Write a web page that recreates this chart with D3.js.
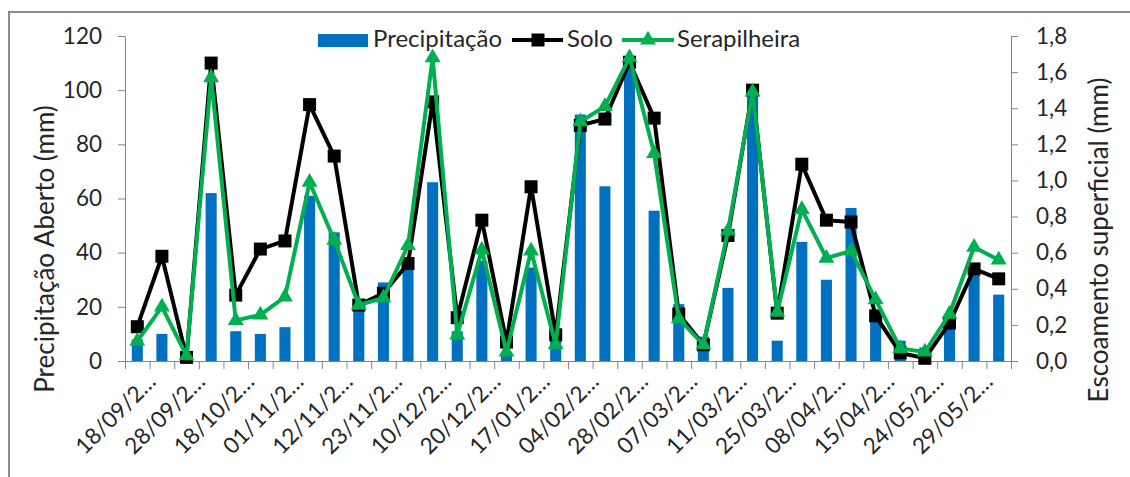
<!DOCTYPE html>
<head>
<meta charset="utf-8">
<title>Precipitação e escoamento</title>
<style>
  body { margin: 0; padding: 0; background: #fff; font-family: 'Lato', sans-serif; }
  text { fill: #262626; font-family: 'Lato', sans-serif; }
  .axis path, .axis line { stroke: #868686; }
</style>
</head>
<body>
<div id="vis"></div>
<script src="https://cdn.jsdelivr.net/npm/d3@7"></script>
<script>
var datas = ["18/09/2…", "", "28/09/2…", "", "18/10/2…", "", "01/11/2…", "", "12/11/2…", "",
             "23/11/2…", "", "10/12/2…", "", "20/12/2…", "", "17/01/2…", "", "04/02/2…", "",
             "28/02/2…", "", "07/03/2…", "", "11/03/2…", "", "25/03/2…", "", "08/04/2…", "",
             "15/04/2…", "", "24/05/2…", "", "29/05/2…", ""];

var precipitacao = [8, 10, 1, 62, 11, 10, 12.5, 61, 47.5, 21, 29, 35,
                    66, 11, 37, 3, 34.5, 8, 91, 64.5, 108, 55.5, 21, 9,
                    27, 99, 7.5, 44, 30, 56.5, 17, 7.5, 5, 14, 32, 24.5];

var solo = [0.19, 0.58, 0.02, 1.65, 0.365, 0.62, 0.665, 1.42, 1.135, 0.31, 0.375, 0.54,
            1.435, 0.24, 0.78, 0.105, 0.965, 0.145, 1.305, 1.34, 1.655, 1.345, 0.26, 0.09,
            0.695, 1.5, 0.265, 1.09, 0.78, 0.77, 0.25, 0.045, 0.015, 0.21, 0.51, 0.455];

var serapilheira = [0.11, 0.3, 0.03, 1.57, 0.225, 0.255, 0.355, 0.99, 0.67, 0.31, 0.35, 0.64,
                    1.68, 0.145, 0.615, 0.05, 0.61, 0.09, 1.325, 1.41, 1.68, 1.15, 0.235, 0.09,
                    0.72, 1.49, 0.27, 0.84, 0.57, 0.61, 0.34, 0.07, 0.05, 0.26, 0.63, 0.56];

var leftTicks = [0, 20, 40, 60, 80, 100, 120];
var rightTicks = [0, 0.2, 0.4, 0.6, 0.8, 1.0, 1.2, 1.4, 1.6, 1.8];

var width = 1130, height = 477,
    plotLeft = 125, plotRight = 1011, plotTop = 36, plotBottom = 361;

var svg = d3.select("#vis").append("svg")
  .attr("width", width)
  .attr("height", height);

// moldura
svg.append("rect")
  .attr("x", 9).attr("y", 12)
  .attr("width", 1140).attr("height", 500)
  .attr("fill", "none")
  .attr("stroke", "#8c8c8c")
  .attr("stroke-width", 2);

var x = d3.scaleBand()
  .domain(d3.range(datas.length))
  .range([plotLeft, plotRight])
  .padding(0);

var xb = d3.scaleLinear().domain([0, datas.length]).range([plotLeft, plotRight]);

var yP = d3.scaleLinear().domain([0, 120]).range([plotBottom, plotTop]);
var yE = d3.scaleLinear().domain([0, 1.8]).range([plotBottom, plotTop]);

var virgula = function(d) { return d3.format(".1f")(d).replace(".", ","); };

// eixos
svg.append("g")
  .attr("class", "axis")
  .attr("transform", "translate(" + plotLeft + ",0)")
  .call(d3.axisLeft(yP).tickValues(leftTicks).tickSize(7).tickSizeOuter(0).tickPadding(16))
  .call(function(g) {
    g.selectAll("text").style("font-size", "22.5px").attr("fill", "#262626");
  });

svg.append("g")
  .attr("class", "axis")
  .attr("transform", "translate(" + plotRight + ",0)")
  .call(d3.axisRight(yE).tickValues(rightTicks).tickFormat(virgula).tickSize(7).tickSizeOuter(0).tickPadding(18))
  .call(function(g) {
    g.selectAll("text").style("font-size", "22.5px").attr("fill", "#262626");
  });

// barras
var bw = x.bandwidth() * 0.45;
svg.append("g").selectAll("rect")
  .data(precipitacao)
  .enter().append("rect")
    .attr("x", function(d, i) { return x(i) + (x.bandwidth() - bw) / 2; })
    .attr("y", function(d) { return yP(d); })
    .attr("width", bw)
    .attr("height", function(d) { return plotBottom - yP(d); })
    .attr("fill", "#0070c0");

svg.append("g")
  .attr("class", "axis")
  .attr("transform", "translate(0," + plotBottom + ")")
  .call(d3.axisBottom(xb).tickValues(d3.range(datas.length + 1)).tickFormat("").tickSize(8).tickSizeOuter(0));

// rótulos inclinados
svg.append("g").selectAll("text")
  .data(datas)
  .enter().append("text")
    .attr("transform", function(d, i) {
      return "translate(" + (x(i) + x.bandwidth() / 2 + 20) + ",383) rotate(-45)";
    })
    .attr("text-anchor", "end")
    .style("font-size", "22.5px")
    .text(function(d) { return d; });

var cx = function(d, i) { return x(i) + x.bandwidth() / 2; };

var line = d3.line()
  .x(cx)
  .y(function(d) { return yE(d); });

// Solo
svg.append("path")
  .datum(solo)
  .attr("d", line)
  .attr("fill", "none")
  .attr("stroke", "#000")
  .attr("stroke-width", 4)
  .attr("stroke-linejoin", "round");

svg.append("g").selectAll("rect")
  .data(solo)
  .enter().append("rect")
    .attr("x", function(d, i) { return cx(d, i) - 6.5; })
    .attr("y", function(d) { return yE(d) - 6.5; })
    .attr("width", 13).attr("height", 13)
    .attr("fill", "#000");

// Serapilheira
svg.append("path")
  .datum(serapilheira)
  .attr("d", line)
  .attr("fill", "none")
  .attr("stroke", "#00b050")
  .attr("stroke-width", 4)
  .attr("stroke-linejoin", "round");

var tri = d3.symbol().type(d3.symbolTriangle).size(110);
svg.append("g").selectAll("path")
  .data(serapilheira)
  .enter().append("path")
    .attr("d", tri)
    .attr("transform", function(d, i) { return "translate(" + cx(d, i) + "," + yE(d) + ")"; })
    .attr("fill", "#00b050");

// títulos dos eixos
svg.append("text")
  .attr("transform", "translate(54,249) rotate(-90)")
  .attr("text-anchor", "middle")
  .style("font-size", "26px")
  .text("Precipitação Aberto (mm)");

svg.append("text")
  .attr("transform", "translate(1108,240) rotate(-90)")
  .attr("text-anchor", "middle")
  .style("font-size", "26px")
  .text("Escoamento superficial (mm)");

// legenda
var leg = svg.append("g");
leg.append("rect")
  .attr("x", 318).attr("y", 34).attr("width", 50).attr("height", 13)
  .attr("fill", "#0070c0");
leg.append("text").attr("x", 373).attr("y", 47).style("font-size", "24px").text("Precipitação");

leg.append("line").attr("x1", 512).attr("x2", 563).attr("y1", 40).attr("y2", 40)
  .attr("stroke", "#000").attr("stroke-width", 4);
leg.append("rect").attr("x", 531.5).attr("y", 33.5).attr("width", 13).attr("height", 13).attr("fill", "#000");
leg.append("text").attr("x", 567).attr("y", 47).style("font-size", "24px").text("Solo");

leg.append("line").attr("x1", 622).attr("x2", 674).attr("y1", 40).attr("y2", 40)
  .attr("stroke", "#00b050").attr("stroke-width", 4);
leg.append("path").attr("d", tri).attr("transform", "translate(648,40)").attr("fill", "#00b050");
leg.append("text").attr("x", 677).attr("y", 47).style("font-size", "24px").text("Serapilheira");
</script>
</body>
